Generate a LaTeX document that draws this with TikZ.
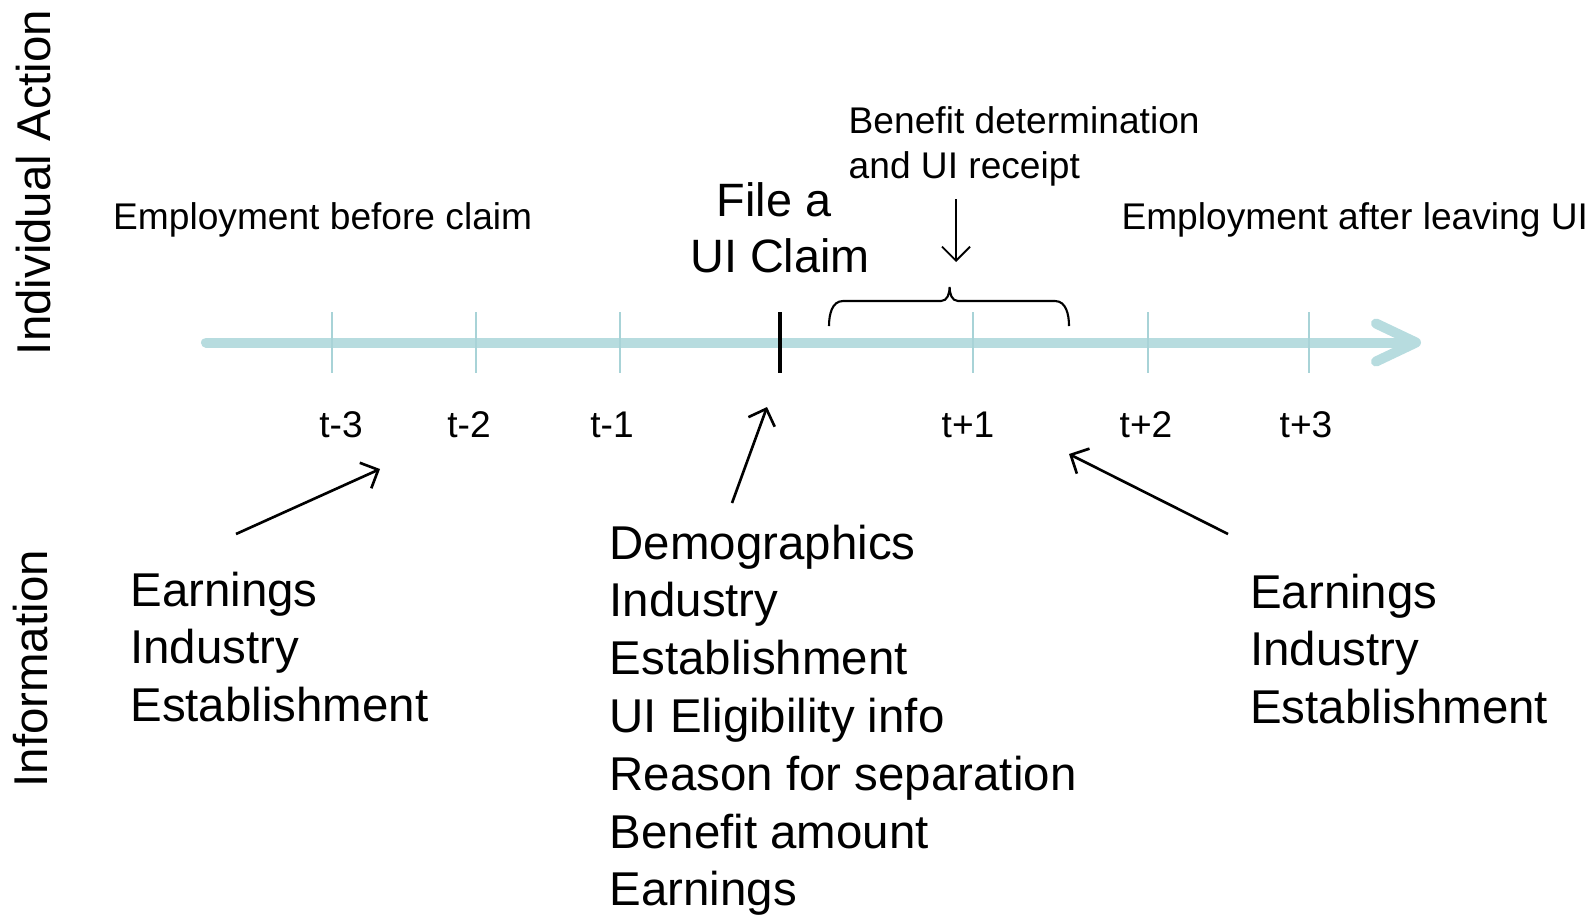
\documentclass[tikz,border=0pt]{standalone}
\usepackage{fontspec}
\setmainfont{Liberation Sans}
\usetikzlibrary{arrows.meta}
\definecolor{axisblue}{HTML}{B7DCDF}
\definecolor{tickblue}{HTML}{A8D3D7}
\tikzset{
  small/.style={font=\fontsize{10.56}{12.69}\selectfont, inner sep=0pt},
  big/.style={font=\fontsize{13.49}{16.44}\selectfont, inner sep=0pt, align=left},
  pointer/.style={line width=0.75pt, -{Straight Barb[length=1.4mm,width=2.8mm]}},
  bracket/.style={line width=0.6pt},
}
\begin{document}
\begin{tikzpicture}[x=0.01cm,y=-0.01cm]
\useasboundingbox (0,0) rectangle (1589,914);

% time line
\draw[axisblue, line width=2.85pt, line cap=round,
  -{Straight Barb[length=4mm,width=3.8mm,round]}] (206,342.5) -- (1421,342.5);
\foreach \x in {332,476,620,973,1148,1309}
  \draw[tickblue, line width=0.5pt] (\x,312) -- (\x,373);
\draw[line width=1.2pt] (780,312) -- (780,373);

\foreach \x/\lab [count=\i] in {341/t-3,469/t-2,612/t-1,968/t+1,1146/t+2,1306/t+3}
  \node[small, anchor=base] (t\i) at (\x,437) {\lab};

% individual action
\node[small, anchor=base west] (before) at (112.5,229) {Employment before claim};
\node[small, anchor=base west] (after) at (1120.8,229) {Employment after leaving UI};
\node[small, anchor=north west, align=left] (benefit) at (848,106) {Benefit determination\\and UI receipt};
\node[font=\fontsize{13.31}{15.85}\selectfont, inner sep=0pt, align=center, anchor=north]
  (claim) at (780,182) {File a\hspace*{0.25em}\\UI Claim};

\draw[bracket] (829,326) to[out=90,in=180] (843,301) -- (941,301)
  to[out=0,in=-90] (949.6,287) to[out=-90,in=180] (958,301) -- (1055,301)
  to[out=0,in=90] (1069,326);

% information
\node[big, anchor=north west] (prelist) at (129.7,571) {Earnings\\Industry\\Establishment};
\node[big, anchor=north west] (claimlist) at (609,524)
  {Demographics\\Industry\\Establishment\\UI Eligibility info\\Reason for separation\\Benefit amount\\Earnings};
\node[big, anchor=north west] (postlist) at (1249.5,573) {Earnings\\Industry\\Establishment};

\node[big, rotate=90] (action) at (33.4,182.4) {Individual Action};
\node[big, rotate=90] (info) at (30.4,668.8) {Information};

% pointers
\coordinate (pre from) at (236,534);
\coordinate (pre to) at (380,469);
\coordinate (claim from) at (732,503);
\coordinate (claim to) at (767,407);
\coordinate (post from) at (1228,534);
\coordinate (post to) at (1069,454);
\coordinate (benefit from) at (956,199);
\coordinate (benefit to) at (956,262);
\draw[pointer] (pre from) -- (pre to);
\draw[pointer] (claim from) -- (claim to);
\draw[pointer] (post from) -- (post to);
\draw[pointer, line width=0.55pt] (benefit from) -- (benefit to);
\end{tikzpicture}
\end{document}
